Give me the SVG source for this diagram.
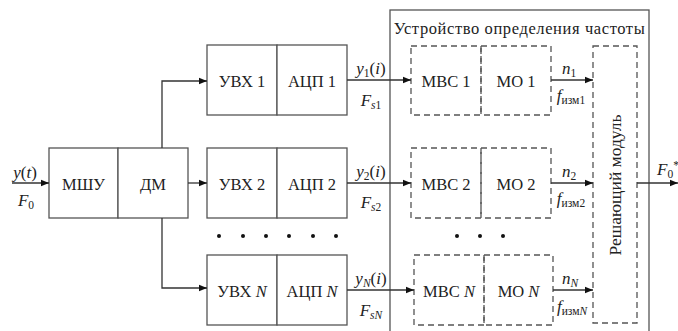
<svg xmlns="http://www.w3.org/2000/svg" width="678" height="331" viewBox="0 0 678 331">
<defs>
<marker id="ah" viewBox="0 0 10 10" refX="10" refY="5" markerWidth="11" markerHeight="8" markerUnits="userSpaceOnUse" orient="auto">
<path d="M0,1 L10,5 L0,9 Z" fill="#111"/>
</marker>
<style>
.b{fill:#fff;stroke:#555;stroke-width:1.3}
.d{fill:none;stroke:#555;stroke-width:1.3;stroke-dasharray:6,4}
.a{fill:none;stroke:#333;stroke-width:1.3;marker-end:url(#ah)}
.t{font-size:16.5px;text-anchor:middle}
.s{font-size:17px;text-anchor:middle}
.i{font-style:italic}
.sub{font-size:11.5px}
</style>
</defs>
<g font-family="Liberation Serif, serif" fill="#222">
<g id="outer">
<rect x="390" y="10" width="259" height="330" fill="none" stroke="#555" stroke-width="1.3"/>
<text x="519.5" y="34" class="t" style="font-size:16.5px;letter-spacing:0.6px">Устройство определения частоты</text>
</g>
<g id="mshu"><rect x="49" y="148" width="69" height="70" class="b"/><text x="83.5" y="190" class="t">МШУ</text></g>
<g id="dm"><rect x="118" y="148" width="70" height="70" class="b"/><text x="153" y="190" class="t">ДМ</text></g>
<g id="uvx1"><rect x="207" y="45" width="70" height="70" class="b"/><text x="242" y="87" class="t">УВХ 1</text></g>
<g id="acp1"><rect x="277" y="45" width="70" height="70" class="b"/><text x="312" y="87" class="t">АЦП 1</text></g>
<g id="uvx2"><rect x="207" y="148" width="70" height="70" class="b"/><text x="242" y="190" class="t">УВХ 2</text></g>
<g id="acp2"><rect x="277" y="148" width="70" height="70" class="b"/><text x="312" y="190" class="t">АЦП 2</text></g>
<g id="uvxN"><rect x="207" y="255" width="70" height="70" class="b"/><text x="242" y="297" class="t">УВХ <tspan class="i">N</tspan></text></g>
<g id="acpN"><rect x="277" y="255" width="70" height="70" class="b"/><text x="312" y="297" class="t">АЦП <tspan class="i">N</tspan></text></g>
<g id="mvs1"><rect x="411" y="46" width="70" height="69" class="d"/><text x="446" y="87" class="t">МВС 1</text></g>
<g id="mo1"><rect x="481" y="46" width="70" height="69" class="d"/><text x="516" y="87" class="t">МО 1</text></g>
<g id="mvs2"><rect x="411" y="148" width="70" height="70" class="d"/><text x="446" y="190" class="t">МВС 2</text></g>
<g id="mo2"><rect x="481" y="148" width="70" height="70" class="d"/><text x="516" y="190" class="t">МО 2</text></g>
<g id="mvsN"><rect x="414" y="255" width="70" height="70" class="d"/><text x="449" y="297" class="t">МВС <tspan class="i">N</tspan></text></g>
<g id="moN"><rect x="484" y="255" width="69" height="70" class="d"/><text x="518.5" y="297" class="t">МО <tspan class="i">N</tspan></text></g>
<g id="resh"><rect x="593" y="46" width="44" height="277" class="d"/><text x="0" y="0" class="t" style="font-size:17.5px" transform="translate(621,185) rotate(-90)">Решающий модуль</text></g>
<g id="dots" fill="#111">
<circle cx="219" cy="236" r="2"/><circle cx="243" cy="236" r="2"/><circle cx="266" cy="236" r="2"/><circle cx="289" cy="236" r="2"/><circle cx="313" cy="236" r="2"/><circle cx="336" cy="236" r="2"/>
<circle cx="457" cy="236" r="2"/><circle cx="480" cy="236" r="2"/><circle cx="503" cy="236" r="2"/>
</g>
<g id="connectors">
<path d="M12,183 H49" class="a"/>
<path d="M188,183 H207" class="a"/>
<path d="M162,148 V81 H207" class="a"/>
<path d="M162,218 V288 H207" class="a"/>
<path d="M347,80 H411" class="a"/>
<path d="M347,183 H411" class="a"/>
<path d="M347,290 H414" class="a"/>
<path d="M551,80 H593" class="a"/>
<path d="M551,183 H593" class="a"/>
<path d="M553,290 H593" class="a"/>
<path d="M637,183 H678" class="a"/>
</g>
<g id="labels">
<text x="25" y="178" class="s"><tspan class="i">y</tspan>(<tspan class="i">t</tspan>)</text>
<text x="26" y="206" class="s"><tspan class="i">F</tspan><tspan class="sub" dy="3">0</tspan></text>
<text x="371" y="74" class="s"><tspan class="i">y</tspan><tspan class="sub" dy="3">1</tspan><tspan dy="-3">(</tspan><tspan class="i">i</tspan>)</text>
<text x="371" y="106" class="s"><tspan class="i">F</tspan><tspan class="sub i" dy="3">s</tspan><tspan class="sub">1</tspan></text>
<text x="371" y="177" class="s"><tspan class="i">y</tspan><tspan class="sub" dy="3">2</tspan><tspan dy="-3">(</tspan><tspan class="i">i</tspan>)</text>
<text x="371" y="208" class="s"><tspan class="i">F</tspan><tspan class="sub i" dy="3">s</tspan><tspan class="sub">2</tspan></text>
<text x="371" y="284" class="s"><tspan class="i">y</tspan><tspan class="sub i" dy="3">N</tspan><tspan dy="-3">(</tspan><tspan class="i">i</tspan>)</text>
<text x="371" y="316" class="s"><tspan class="i">F</tspan><tspan class="sub i" dy="3">sN</tspan></text>
<text x="569" y="74" class="s"><tspan class="i">n</tspan><tspan class="sub" dy="3">1</tspan></text>
<text x="571" y="101" class="s"><tspan class="i">f</tspan><tspan class="sub" dy="3">изм1</tspan></text>
<text x="569" y="177" class="s"><tspan class="i">n</tspan><tspan class="sub" dy="3">2</tspan></text>
<text x="571" y="204" class="s"><tspan class="i">f</tspan><tspan class="sub" dy="3">изм2</tspan></text>
<text x="570" y="284" class="s"><tspan class="i">n</tspan><tspan class="sub i" dy="3">N</tspan></text>
<text x="572" y="312" class="s"><tspan class="i">f</tspan><tspan class="sub" dy="3">изм</tspan><tspan class="sub i">N</tspan></text>
<text x="657" y="175" style="font-size:17px"><tspan class="i">F</tspan><tspan class="sub" dy="3">0</tspan><tspan class="sub" dy="-9">*</tspan></text>
</g>
</g>
</svg>
